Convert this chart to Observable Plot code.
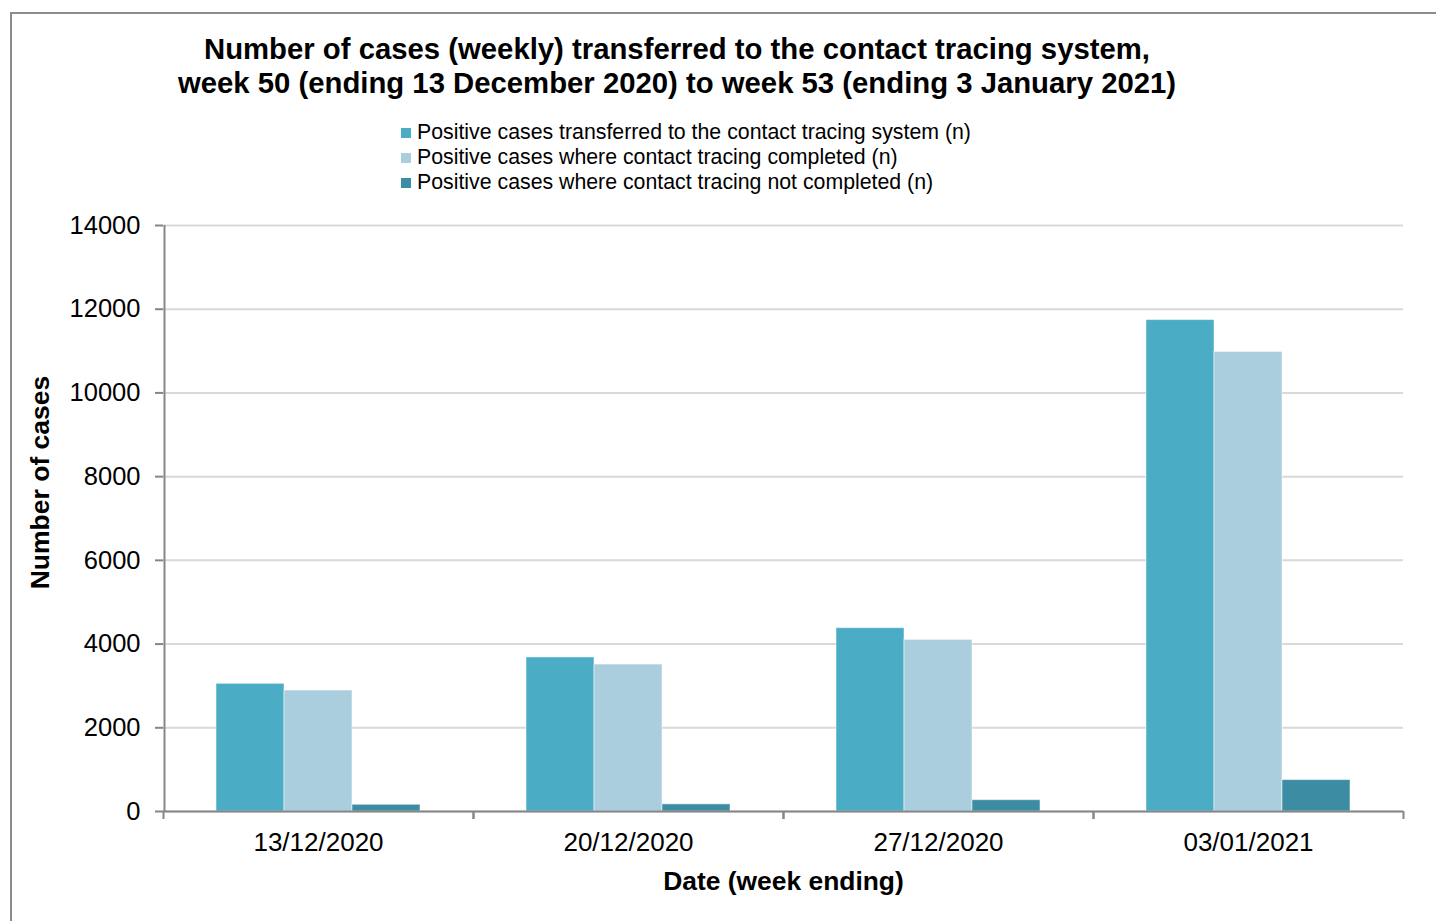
<!DOCTYPE html>
<html>
<head>
<meta charset="utf-8">
<script src="https://cdn.jsdelivr.net/npm/d3@7"></script>
<script src="https://cdn.jsdelivr.net/npm/@observablehq/plot@0.6"></script>
<style>
  html, body { margin: 0; padding: 0; background: #fff; }
  body { width: 1436px; height: 921px; position: relative; overflow: hidden; font-family: Arial, "Liberation Sans", sans-serif; color: #000; }
  #frame { position: absolute; left: 10px; top: 12px; width: 1600px; height: 1100px; border-left: 2px solid #8c8c8c; border-top: 2px solid #8c8c8c; box-sizing: border-box; }
  #title { position: absolute; left: 0; top: 32px; width: 1354px; text-align: center; font-weight: bold; font-size: 29.3px; line-height: 34px; }
  .lg-sq { position: absolute; width: 10px; height: 10px; }
  .lg-tx { position: absolute; font-size: 21.3px; line-height: 25px; white-space: nowrap; }
  #chart { position: absolute; left: 0; top: 200px; }
</style>
</head>
<body>
<div id="frame"></div>
<div id="title">Number of cases (weekly) transferred to the contact tracing system,<br>week 50 (ending 13 December 2020) to week 53 (ending 3 January 2021)</div>
<div id="legend"></div>
<div id="chart"></div>
<script>
const dates = ["13/12/2020", "20/12/2020", "27/12/2020", "03/01/2021"];
const series = [
  "Positive cases transferred to the contact tracing system (n)",
  "Positive cases where contact tracing completed (n)",
  "Positive cases where contact tracing not completed (n)"
];
const transferred = [3050, 3680, 4380, 11740];
const completed = [2890, 3510, 4100, 10980];
const notCompleted = [160, 170, 270, 750];
const colors = ["#4bacc6", "#aacedd", "#3c8ca3"];
const yTicks = [0, 2000, 4000, 6000, 8000, 10000, 12000, 14000];
const xTitle = "Date (week ending)";
const yTitle = "Number of cases";

const valuesBySeries = [transferred, completed, notCompleted];
const rows = dates.flatMap((d, i) => series.map((s, k) => ({date: d, series: s, value: valuesBySeries[k][i]})));

// legend
const legend = document.getElementById("legend");
series.forEach((s, k) => {
  const sq = document.createElement("div");
  sq.className = "lg-sq";
  sq.style.left = "401px";
  sq.style.top = (128 + 25 * k) + "px";
  sq.style.background = colors[k];
  legend.appendChild(sq);
  const tx = document.createElement("div");
  tx.className = "lg-tx";
  tx.style.left = "417px";
  tx.style.top = (120 + 25 * k) + "px";
  tx.textContent = s;
  legend.appendChild(tx);
});

const W = 1436, H = 720, mL = 163, mR = 33, mT = 25, mB = 109;
const facetW = (W - mL - mR) / dates.length;
const po = 0.7464;
const barW = facetW / (series.length + 2 * po);
const edge = po * barW + barW / 2;
const axisGray = "#868686";
const font = "Arial, 'Liberation Sans', sans-serif";

const chart = Plot.plot({
  width: W,
  height: H,
  marginLeft: mL,
  marginRight: mR,
  marginTop: mT,
  marginBottom: mB,
  style: {fontFamily: font, color: "#000", background: "transparent", overflow: "visible"},
  fx: {domain: dates, padding: 0, label: null, axis: null},
  x: {domain: series, paddingInner: 0, paddingOuter: po, axis: null},
  y: {domain: [0, 14000], label: null, axis: null},
  color: {domain: series, range: colors},
  marks: [
    Plot.gridY(yTicks, {stroke: "#d9d9d9", strokeOpacity: 1, strokeWidth: 2}),
    Plot.barY(rows, {fx: "date", x: "series", y: "value", fill: "series", stroke: "#ffffff", strokeWidth: 1, strokeOpacity: 0.5}),
    Plot.ruleY([0], {stroke: axisGray, strokeWidth: 2}),
    Plot.ruleX([series[0]], {fx: () => dates[0], x: d => d, y1: 0, y2: 14000, dx: -edge, stroke: axisGray, strokeWidth: 2}),
    Plot.axisY(yTicks, {tickSize: 8, tickPadding: 15, fontSize: 25.5, tickFormat: d => String(d), stroke: axisGray, strokeWidth: 2, fill: "#000", label: null}),
    Plot.axisFx({anchor: "bottom", tickSize: 0, tickPadding: 21, fontSize: 26, fill: "#000", label: null}),
    Plot.axisFx({anchor: "bottom", tickSize: 8, tickFormat: () => "", dx: -facetW / 2, stroke: axisGray, strokeWidth: 2, label: null}),
    Plot.axisFx({anchor: "bottom", tickSize: 8, tickFormat: () => "", dx: facetW / 2, stroke: axisGray, strokeWidth: 2, label: null}),
    Plot.axisFx({anchor: "bottom", tickSize: 0, tickFormat: () => "", label: xTitle, labelAnchor: "center", labelOffset: 78, fontSize: 26.4, fontWeight: "bold", fill: "#000"}),
    Plot.text([yTitle], {fx: () => dates[0], text: d => d, frameAnchor: "left", textAnchor: "middle", rotate: -90, dx: -123, dy: -36, fontSize: 26.5, fontWeight: "bold", fill: "#000"})
  ]
});
document.getElementById("chart").appendChild(chart);
</script>
</body>
</html>
